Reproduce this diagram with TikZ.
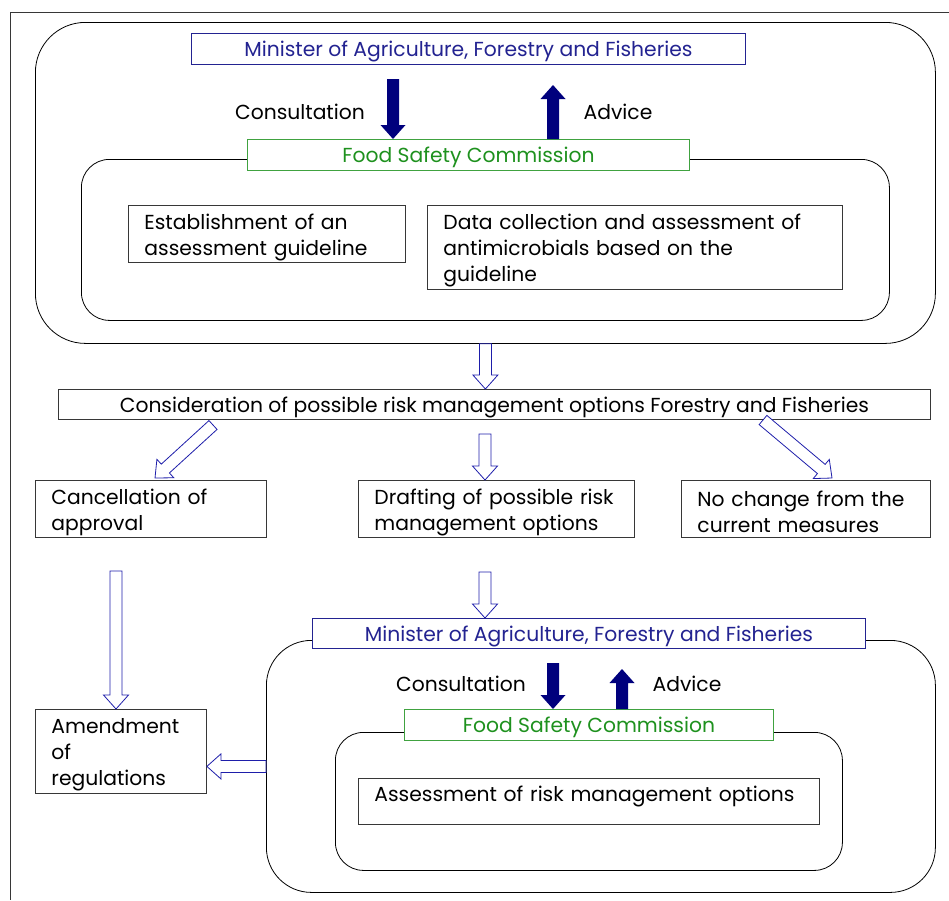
\documentclass[tikz,border=0pt]{standalone}
\usepackage{fontspec}
\setmainfont{Poppins}
\usetikzlibrary{calc}
\definecolor{minblue}{RGB}{35,35,145}
\definecolor{arrowblue}{RGB}{30,30,170}
\definecolor{navyarrow}{RGB}{0,0,125}
\definecolor{fscgreen}{RGB}{30,145,30}
\definecolor{linegray}{RGB}{55,55,55}
\tikzset{
  box/.style={draw=linegray, line width=0.9pt, fill=white, anchor=north west, inner sep=0pt},
  oneline/.style={box, text height=17pt, text depth=1pt},
  textbox/.style={box, align=left, inner xsep=16pt, execute at begin node={\rule{0pt}{22pt}}},
  roundbox/.style={draw=black, line width=0.8pt, anchor=north west, inner sep=0pt},
  minbox/.style={oneline, draw=minblue, text=minblue},
  fscbox/.style={oneline, draw=fscgreen!85!white, text=fscgreen},
  hollow/.style={draw=arrowblue, fill=white, line width=0.8pt},
  solid/.style={fill=navyarrow},
}
% block arrow from #2 to #3
\newcommand\blockarrow[3][hollow]{%
  \path[#1] let \p1=#2, \p2=#3,
    \n1={atan2(\y2-\y1,\x2-\x1)}, \n2={veclen(\x2-\x1,\y2-\y1)-14} in
    ($(\p1)+(\n1+90:6pt)$) -- ++(\n1:\n2) -- ++(\n1+90:6.5pt) -- (\p2)
    -- ($(\p2)+(\n1+180:14pt)+(\n1-90:12.5pt)$) -- ++(\n1+90:6.5pt)
    -- ($(\p1)+(\n1-90:6pt)$) -- cycle;
}
\begin{document}
\begin{tikzpicture}[x=1pt, y=-1pt, font=\fontsize{20.3}{26}\selectfont]
\useasboundingbox (0,0) rectangle (949,900);
\draw[linegray, line width=1.2pt] (949,12.5) -- (10.5,12.5) -- (10.5,900);

% first consultation
\node[roundbox, rounded corners=50pt, minimum width=900pt, minimum height=321pt] (outerA) at (35,22){};
\node[roundbox, rounded corners=28pt, minimum width=808pt, minimum height=161pt] (innerA) at (81,159){};
\node[minbox, minimum width=554pt, minimum height=31pt] (minA) at (191,33){Minister of Agriculture, Forestry and Fisheries};
\node[fscbox, minimum width=442pt, minimum height=31pt] (fscA) at (247,139){Food Safety Commission};
\node (consA) at (300,112){Consultation};
\node (advA) at (618,112){Advice};
\coordinate (cA) at (393,79);
\coordinate (aA) at (553,85);
\blockarrow[solid]{(cA)}{(cA |- fscA.north)}
\blockarrow[solid]{(aA |- fscA.north)}{(aA)}
\node[textbox, minimum width=277pt, minimum height=57pt, text width=245pt] (estab) at (128,205){Establishment of an\\assessment guideline};
\node[textbox, minimum width=415pt, minimum height=84pt, text width=383pt] (datacol) at (427,205){Data collection and assessment of\\antimicrobials based on the\\guideline};

% options
\node[oneline, minimum width=872pt, minimum height=30pt] (consider) at (58,389){Consideration of possible risk management options Forestry and Fisheries};
\blockarrow{(outerA.south)}{(outerA.south |- consider.north)}
\node[textbox, minimum width=231pt, minimum height=57pt, text width=199pt] (cancel) at (35,480){Cancellation of\\approval};
\node[textbox, minimum width=276pt, minimum height=57pt, text width=244pt] (drafting) at (358,480){Drafting of possible risk\\management options};
\node[textbox, minimum width=249pt, minimum height=57pt, text width=217pt] (nochange) at (681,480){No change from the\\current measures};
\coordinate (dl) at (213,425);
\coordinate (dlEnd) at (155,478);
\coordinate (dm) at (485,434);
\coordinate (dr) at (763,420);
\coordinate (drEnd) at (832,478);
\blockarrow{(dl)}{(dlEnd)}
\blockarrow{(dm)}{(dm |- drafting.north)}
\blockarrow{(dr)}{(drEnd)}

% second consultation
\node[roundbox, rounded corners=45pt, minimum width=669pt, minimum height=252pt] (outerB) at (266,640){};
\node[roundbox, rounded corners=28pt, minimum width=507pt, minimum height=138pt] (innerB) at (335,732){};
\node[minbox, minimum width=553pt, minimum height=30pt] (minB) at (312,618){Minister of Agriculture, Forestry and Fisheries};
\node[fscbox, minimum width=369pt, minimum height=31pt] (fscB) at (404,709){Food Safety Commission};
\node (consB) at (461,684){Consultation};
\node (advB) at (687,684){Advice};
\coordinate (cB) at (553,663);
\coordinate (aB) at (622,669);
\blockarrow[solid]{(cB)}{(cB |- fscB.north)}
\blockarrow[solid]{(aB |- fscB.north)}{(aB)}
\node[textbox, minimum width=461pt, minimum height=46pt, text width=429pt, execute at begin node={}, text height=10pt, text depth=10pt] (assess) at (358,778){Assessment of risk management options};
\coordinate (dm2) at (485,572);
\blockarrow{(dm2)}{(dm2 |- minB.north)}

% amendment
\node[textbox, minimum width=171pt, minimum height=84pt, text width=139pt] (amend) at (35,709){Amendment\\of\\regulations};
\coordinate (cl) at (116,571);
\blockarrow{(cl)}{(cl |- amend.north)}
\blockarrow{(outerB.west)}{(outerB.west -| amend.east)}
\end{tikzpicture}
\end{document}
